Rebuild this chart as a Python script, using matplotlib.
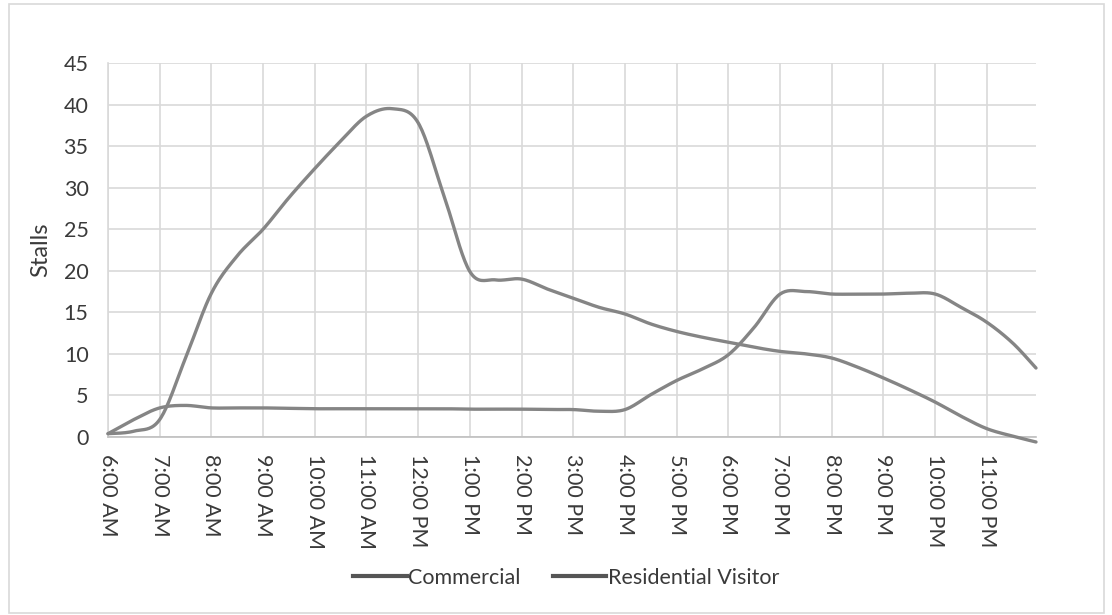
import numpy as np
import matplotlib
matplotlib.use("Agg")
import matplotlib.pyplot as plt
from matplotlib.lines import Line2D

plt.rcParams['font.family'] = ['Lato', 'DejaVu Sans']

# Half-hourly readings (hours since midnight)
hours = [6.0, 6.5, 7.0, 7.5, 8.0, 8.5, 9.0, 9.5, 10.0, 10.5, 11.0, 11.5, 12.0,
         12.5, 13.0, 13.5, 14.0, 14.5, 15.0, 15.5, 16.0, 16.5, 17.0, 17.5, 18.0,
         18.5, 19.0, 19.5, 20.0, 20.5, 21.0, 21.5, 22.0, 22.5, 23.0, 23.5, 23.95]

commercial = [0.4, 0.7, 2.1, 9.5, 17.3, 21.8, 25.0, 28.8, 32.3, 35.6, 38.6, 39.5, 37.8,
              29.0, 19.9, 18.9, 19.0, 17.8, 16.7, 15.6, 14.8, 13.6, 12.7, 12.0, 11.4,
              10.8, 10.3, 10.0, 9.5, 8.4, 7.1, 5.7, 4.2, 2.5, 1.0, 0.1, -0.6]

residential = [0.4, 2.1, 3.5, 3.8, 3.5, 3.5, 3.5, 3.45, 3.4, 3.4, 3.4, 3.4, 3.4,
               3.4, 3.35, 3.35, 3.35, 3.3, 3.3, 3.1, 3.3, 5.1, 6.8, 8.2, 9.9,
               13.2, 17.2, 17.5, 17.2, 17.2, 17.2, 17.3, 17.2, 15.6, 13.8, 11.3, 8.3]

tick_hours = list(range(6, 24))
tick_labels = ["6:00 AM", "7:00 AM", "8:00 AM", "9:00 AM", "10:00 AM", "11:00 AM",
               "12:00 PM", "1:00 PM", "2:00 PM", "3:00 PM", "4:00 PM", "5:00 PM",
               "6:00 PM", "7:00 PM", "8:00 PM", "9:00 PM", "10:00 PM", "11:00 PM"]

series_names = ["Commercial", "Residential Visitor"]


def smooth(x, y, n=20, tension=0.5):
    """Excel-like smoothed line (cardinal spline through the points)."""
    x = np.asarray(x, float)
    y = np.asarray(y, float)
    px = np.concatenate([[x[0]], x, [x[-1]]])
    py = np.concatenate([[y[0]], y, [y[-1]]])
    xs, ys = [], []
    t = np.linspace(0, 1, n, endpoint=False)
    for i in range(1, len(px) - 2):
        p0x, p1x, p2x, p3x = px[i - 1], px[i], px[i + 1], px[i + 2]
        p0y, p1y, p2y, p3y = py[i - 1], py[i], py[i + 1], py[i + 2]
        m1x, m1y = tension * (p2x - p0x), tension * (p2y - p0y)
        m2x, m2y = tension * (p3x - p1x), tension * (p3y - p1y)
        h00 = 2 * t**3 - 3 * t**2 + 1
        h10 = t**3 - 2 * t**2 + t
        h01 = -2 * t**3 + 3 * t**2
        h11 = t**3 - t**2
        xs.append(h00 * p1x + h10 * m1x + h01 * p2x + h11 * m2x)
        ys.append(h00 * p1y + h10 * m1y + h01 * p2y + h11 * m2y)
    xs.append([x[-1]])
    ys.append([y[-1]])
    return np.concatenate(xs), np.concatenate(ys)


fig = plt.figure(figsize=(11.12, 6.15), dpi=100)
fig.patch.set_facecolor("white")
# chart border
fig.add_artist(plt.Rectangle((9 / 1112, 2 / 615), 1095 / 1112, 609 / 615,
                             transform=fig.transFigure, fill=False,
                             edgecolor="#d9d9d9", linewidth=1.2))

ax = fig.add_axes([108 / 1112, (615 - 437) / 615, (1036 - 108) / 1112, (437 - 63) / 615])

line_color = "#858585"
for vals in (commercial, residential):
    sx, sy = smooth(hours, vals)
    ax.plot(sx, sy, color=line_color, linewidth=2.4, solid_capstyle="round",
            clip_on=False, zorder=3)

text_color = "#3a3a3a"
ax.set_xlim(6, 23.95)
ax.set_ylim(0, 45)
ax.set_yticks(np.arange(0, 46, 5))
ax.set_xticks(tick_hours)
ax.set_xticklabels(tick_labels, rotation=270, fontsize=15.5, color=text_color,
                   va="top", ha="center")
ax.tick_params(axis="y", labelsize=15.5, labelcolor=text_color, length=0, pad=14)
ax.tick_params(axis="x", length=0, pad=12)
ax.grid(True, color="#d9d9d9", linewidth=1.2)
ax.set_axisbelow(True)
for s in ["top", "right"]:
    ax.spines[s].set_visible(False)
ax.spines["left"].set_color("#d9d9d9")
ax.spines["bottom"].set_color("#bfbfbf")
ax.spines["left"].set_linewidth(1.2)
ax.spines["bottom"].set_linewidth(1.2)

ax.set_ylabel("Stalls", fontsize=17, color=text_color)
ax.yaxis.set_label_coords((51 - 108) / 928, 0.5)

handles = [Line2D([], [], color="#555555", linewidth=3),
           Line2D([], [], color="#555555", linewidth=3)]
fig.legend(handles, series_names, loc="center", bbox_to_anchor=(566 / 1112, 1 - 578 / 615),
           ncol=2, frameon=False, fontsize=15.5, handlelength=2.5, handletextpad=0.05,
           columnspacing=1.5, labelcolor=text_color)

fig.savefig("out.png", dpi=100, facecolor="white")
